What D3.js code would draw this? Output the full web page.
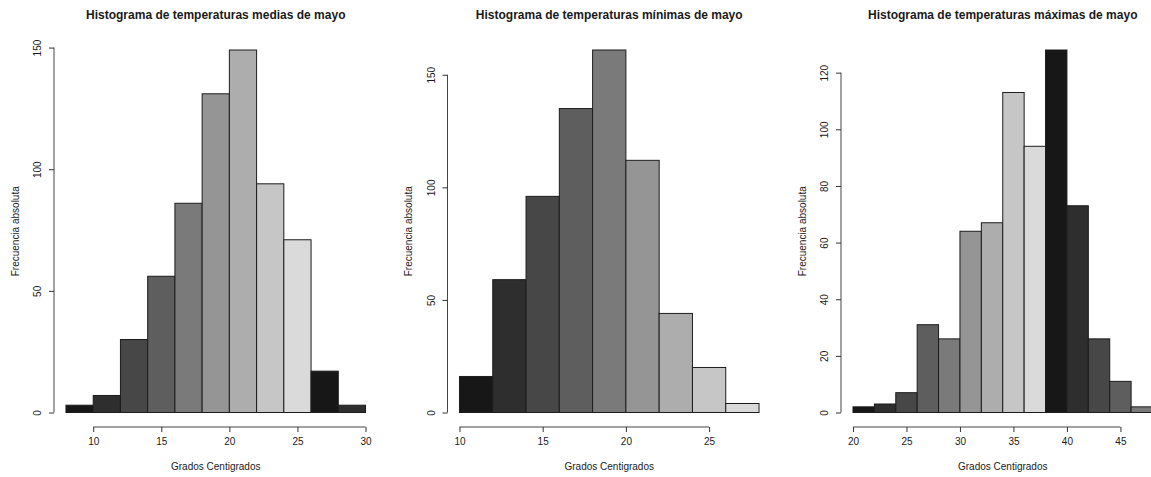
<!DOCTYPE html>
<html>
<head>
<meta charset="utf-8">
<script src="https://cdn.jsdelivr.net/npm/d3@7"></script>
<style>
  html, body { margin: 0; padding: 0; background: #ffffff; }
  svg { display: block; }
  text { font-family: "Liberation Sans", Arial, Helvetica, sans-serif; fill: #1a1a1a; }
</style>
</head>
<body>
<svg id="chart" width="1151" height="477"></svg>
<script>
// Histogram counts (2 °C bins) for May temperatures
const mediasBreaks = [8, 10, 12, 14, 16, 18, 20, 22, 24, 26, 28, 30];
const mediasCounts = [3, 7, 30, 56, 86, 131, 149, 94, 71, 17, 3];

const minimasBreaks = [10, 12, 14, 16, 18, 20, 22, 24, 26, 28];
const minimasCounts = [16, 59, 96, 135, 161, 112, 44, 20, 4];

const maximasBreaks = [20, 22, 24, 26, 28, 30, 32, 34, 36, 38, 40, 42, 44, 46, 48];
const maximasCounts = [2, 3, 7, 31, 26, 64, 67, 113, 94, 128, 73, 26, 11, 2];

// Axis tick labels
const mediasXTicks = [10, 15, 20, 25, 30];
const mediasYTicks = [0, 50, 100, 150];
const minimasXTicks = [10, 15, 20, 25];
const minimasYTicks = [0, 50, 100, 150];
const maximasXTicks = [20, 25, 30, 35, 40, 45];
const maximasYTicks = [0, 20, 40, 60, 80, 100, 120];

const titles = [
  "Histograma de temperaturas medias de mayo",
  "Histograma de temperaturas mínimas de mayo",
  "Histograma de temperaturas máximas de mayo"
];
const xLabel = "Grados Centigrados";
const yLabel = "Frecuencia absoluta";

// Grey ramp cycled across the bars
const greys = ["#171717", "#2e2e2e", "#474747", "#5e5e5e", "#7a7a7a",
               "#959595", "#adadad", "#c6c6c6", "#dadada"];

const panels = [
  { breaks: mediasBreaks, counts: mediasCounts, xTicks: mediasXTicks, yTicks: mediasYTicks, title: titles[0], left: 54 },
  { breaks: minimasBreaks, counts: minimasCounts, xTicks: minimasXTicks, yTicks: minimasYTicks, title: titles[1], left: 447.5 },
  { breaks: maximasBreaks, counts: maximasCounts, xTicks: maximasXTicks, yTicks: maximasYTicks, title: titles[2], left: 841 }
];

const plotW = 323.5, plotTop = 35.5, plotBottom = 427;
const svg = d3.select("#chart");

panels.forEach(p => {
  const b0 = p.breaks[0], bN = p.breaks[p.breaks.length - 1];
  const xr = bN - b0;
  const x = d3.scaleLinear()
    .domain([b0 - 0.04 * xr, bN + 0.04 * xr])
    .range([p.left, p.left + plotW]);
  const ymax = d3.max(p.counts);
  const y = d3.scaleLinear()
    .domain([-0.04 * ymax, 1.04 * ymax])
    .range([plotBottom, plotTop]);

  const g = svg.append("g");

  // bars
  g.selectAll("rect.bar")
    .data(p.counts)
    .join("rect")
    .attr("class", "bar")
    .attr("x", (d, i) => x(p.breaks[i]))
    .attr("width", (d, i) => x(p.breaks[i + 1]) - x(p.breaks[i]))
    .attr("y", d => y(d))
    .attr("height", d => y(0) - y(d))
    .attr("fill", (d, i) => greys[i % greys.length])
    .attr("stroke", "#1c1c1c")
    .attr("stroke-width", 1);

  // x axis (line spans first to last tick only)
  const xAxis = d3.axisBottom(x)
    .tickValues(p.xTicks)
    .tickFormat(d3.format("d"))
    .tickSizeInner(5)
    .tickSizeOuter(0)
    .tickPadding(6);
  const gx = g.append("g")
    .attr("transform", `translate(0,${plotBottom})`)
    .call(xAxis);
  gx.select(".domain")
    .attr("d", `M${x(p.xTicks[0])},0H${x(p.xTicks[p.xTicks.length - 1])}`)
    .attr("stroke", "#444");
  gx.selectAll(".tick line").attr("stroke", "#333");
  gx.selectAll(".tick text")
    .style("font-size", "10px")
    .attr("fill", "#1a1a1a");

  // y axis with labels parallel to the axis
  const yAxis = d3.axisLeft(y)
    .tickValues(p.yTicks)
    .tickFormat(d3.format("d"))
    .tickSizeInner(5)
    .tickSizeOuter(0);
  const gy = g.append("g")
    .attr("transform", `translate(${p.left},0)`)
    .call(yAxis);
  gy.select(".domain")
    .attr("d", `M0,${y(p.yTicks[0])}V${y(p.yTicks[p.yTicks.length - 1])}`)
    .attr("stroke", "#444");
  gy.selectAll(".tick line").attr("stroke", "#333");
  gy.selectAll(".tick text")
    .attr("x", null).attr("dy", null)
    .attr("text-anchor", "middle")
    .attr("dominant-baseline", "central")
    .attr("transform", "translate(-16.5,0) rotate(-90)")
    .style("font-size", "10px")
    .attr("fill", "#1a1a1a");

  // titles
  const cx = p.left + plotW / 2;
  g.append("text")
    .attr("x", cx).attr("y", 15)
    .attr("text-anchor", "middle")
    .attr("dominant-baseline", "central")
    .style("font-size", "12px")
    .style("font-weight", "bold")
    .text(p.title);

  g.append("text")
    .attr("x", cx).attr("y", 466)
    .attr("text-anchor", "middle")
    .attr("dominant-baseline", "central")
    .style("font-size", "10px")
    .text(xLabel);

  g.append("text")
    .attr("transform", `translate(${p.left - 39},${(plotTop + plotBottom) / 2}) rotate(-90)`)
    .attr("text-anchor", "middle")
    .attr("dominant-baseline", "central")
    .style("font-size", "10px")
    .text(yLabel);
});
</script>
</body>
</html>
